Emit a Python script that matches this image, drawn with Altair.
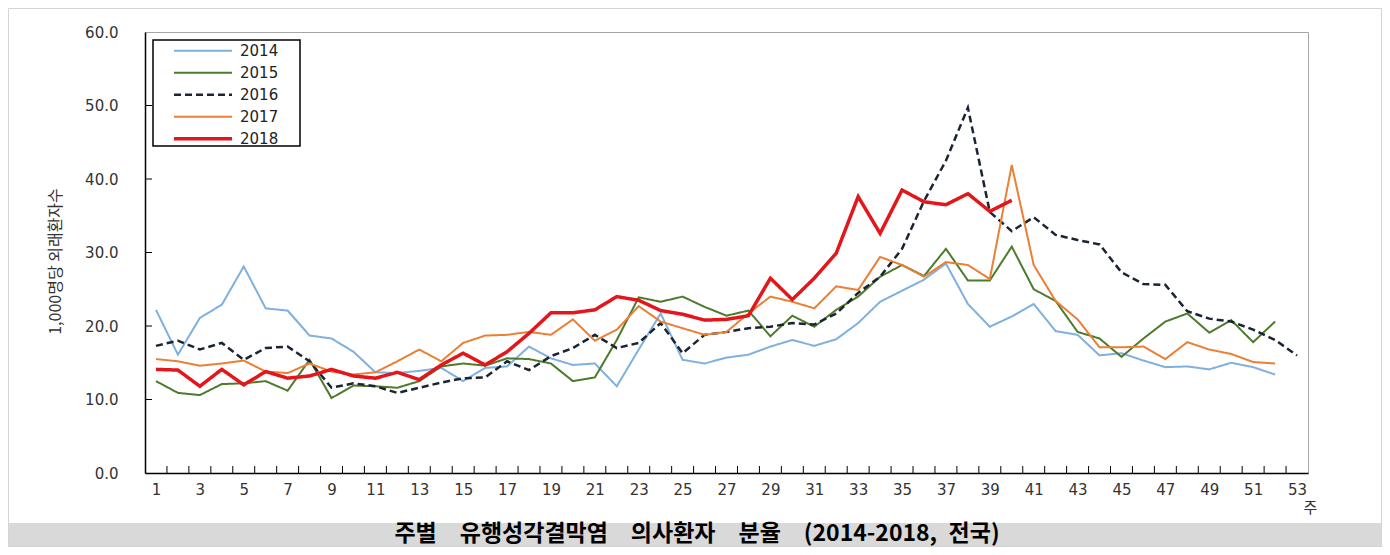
import altair as alt
import pandas as pd

# ---------------- data ----------------
years = ["2014", "2015", "2016", "2017", "2018"]

v2014 = [22.2, 16.1, 21.1, 22.9, 28.1, 22.4, 22.1, 18.7, 18.3, 16.5,
         13.7, 13.6, 13.9, 14.3, 12.5, 14.3, 14.5, 17.2, 15.6, 14.7,
         14.9, 11.8, 16.8, 21.7, 15.4, 14.9, 15.7, 16.1, 17.2, 18.1,
         17.3, 18.2, 20.4, 23.3, 24.8, 26.3, 28.5, 23.0, 19.9, 21.3,
         23.0, 19.3, 18.8, 16.0, 16.3, 15.3, 14.4, 14.5, 14.1, 15.0,
         14.4, 13.4]
v2015 = [12.5, 10.9, 10.6, 12.1, 12.2, 12.5, 11.2, 15.4, 10.2, 11.9,
         11.8, 11.6, 12.5, 14.5, 14.9, 14.6, 15.6, 15.5, 14.9, 12.5,
         13.0, 18.1, 23.9, 23.3, 24.0, 22.6, 21.4, 22.1, 18.6, 21.4,
         19.9, 22.2, 24.0, 26.7, 28.3, 26.8, 30.5, 26.2, 26.2, 30.8,
         25.0, 23.4, 19.2, 18.3, 15.8, 18.3, 20.6, 21.7, 19.1, 20.8,
         17.8, 20.6]
v2016 = [17.3, 18.0, 16.8, 17.7, 15.4, 17.0, 17.2, 15.2, 11.6, 12.2,
         11.8, 10.9, 11.6, 12.3, 12.9, 13.0, 15.2, 14.0, 15.9, 17.0,
         18.8, 17.0, 17.7, 20.4, 16.3, 18.8, 19.2, 19.7, 19.9, 20.4,
         20.2, 21.7, 24.5, 26.7, 30.5, 37.0, 42.5, 49.7, 35.5, 32.9,
         34.8, 32.4, 31.7, 31.1, 27.3, 25.7, 25.6, 22.0, 21.0, 20.6,
         19.5, 18.1, 16.0]
v2017 = [15.5, 15.2, 14.6, 14.9, 15.3, 13.8, 13.6, 14.9, 13.8, 13.4,
         13.7, 15.2, 16.8, 15.2, 17.7, 18.7, 18.8, 19.2, 18.8, 20.9,
         18.0, 19.5, 22.7, 20.6, 19.7, 18.8, 19.2, 21.7, 24.0, 23.3,
         22.4, 25.4, 24.9, 29.4, 28.3, 26.7, 28.7, 28.3, 26.4, 41.9,
         28.3, 23.4, 20.9, 17.1, 17.1, 17.2, 15.5, 17.8, 16.8, 16.2,
         15.1, 14.9]
v2018 = [14.1, 14.0, 11.8, 14.1, 12.0, 13.8, 12.9, 13.2, 14.1, 13.2,
         12.9, 13.7, 12.7, 14.7, 16.3, 14.7, 16.5, 19.0, 21.8, 21.8,
         22.2, 24.0, 23.5, 22.1, 21.6, 20.8, 20.9, 21.4, 26.5, 23.6,
         26.5, 29.9, 37.6, 32.6, 38.5, 36.9, 36.5, 38.0, 35.6, 37.1]
series = [v2014, v2015, v2016, v2017, v2018]

week_labels = list(range(1, 54, 2))
y_ticks = [0, 10, 20, 30, 40, 50, 60]
y_inner_ticks = [10, 20, 30, 40, 50]
week_bounds = [k + 0.5 for k in range(1, 53)]

title_text = "주별\u2003유행성각결막염\u2003의사환자\u2003분율\u2003(2014-2018,\u2002전국)"
y_title = "1,000명당 외래환자수"
x_title = "주"

colors = ["#7fb0de", "#4e7a2c", "#1b2433", "#ea7f35", "#e3161c"]
dashes = [[1, 0], [1, 0], [7, 4], [1, 0], [1, 0]]
widths = [2, 2, 2.5, 2, 3.5]

rows = []
for yr, vals in zip(years, series):
    for i, v in enumerate(vals):
        rows.append({"year": yr, "week": i + 1, "value": v})
df = pd.DataFrame(rows)

# ---------------- layout ----------------
W, H = 1163, 441
PAD = {"left": 137, "top": 24, "right": 74, "bottom": 74}
LBL_FONT = "DejaVu Sans"
KR_FONT = "Noto Sans CJK KR"

x_scale = alt.Scale(domain=[0.5, 53.5], nice=False, zero=False)
y_scale = alt.Scale(domain=[0, 60], nice=False, zero=False)

x_axis = alt.Axis(
    values=week_labels, ticks=False, grid=False,
    domainColor="black", domainWidth=1.5,
    labelFont=LBL_FONT, labelFontSize=15, labelColor="#333",
    labelPadding=9, labelFlush=False,
    title=x_title, titleX=1165, titleY=34, titleAlign="center",
    titleBaseline="middle", titleFont=KR_FONT, titleFontSize=15,
    titleFontWeight="normal", titleColor="#333")
y_axis = alt.Axis(
    values=y_ticks, format=".1f", ticks=False, grid=False,
    domainColor="black", domainWidth=1.5,
    labelFont=LBL_FONT, labelFontSize=15, labelColor="#333",
    labelPadding=27, labelFlush=False,
    title=y_title, titleAngle=270, titleX=-90, titleY=229,
    titleAlign="center", titleBaseline="middle", titleFont=KR_FONT,
    titleFontSize=16, titleFontWeight="normal", titleColor="#333")

legend = alt.Legend(
    title=None, orient="none", legendX=8, legendY=8, padding=0,
    symbolType="stroke", symbolSize=3364, symbolOffset=19,
    labelOffset=6, clipHeight=21.5, rowPadding=0,
    labelFont=LBL_FONT, labelFontSize=15, labelColor="#222",
)

one = pd.DataFrame({"k": [0]})

band = alt.Chart(one).mark_rect(color="#d9d9d9").encode(
    x=alt.value(-PAD["left"]), x2=alt.value(W + PAD["right"]),
    y=alt.value(491), y2=alt.value(H + PAD["bottom"]),
)
frame = alt.Chart(one).mark_rect(fill="white", fillOpacity=0, stroke="#d4d4d4", strokeWidth=1).encode(
    x=alt.value(-PAD["left"] + 0.5), x2=alt.value(W + PAD["right"] - 0.5),
    y=alt.value(-PAD["top"] + 0.5), y2=alt.value(H + PAD["bottom"] - 0.5),
)
legend_box = alt.Chart(one).mark_rect(fill="white", stroke="black", strokeWidth=1.5).encode(
    x=alt.value(8), x2=alt.value(155), y=alt.value(8), y2=alt.value(114),
)

ytick = alt.Chart(pd.DataFrame({"value": y_inner_ticks})).mark_rule(color="black", strokeWidth=1).encode(
    y=alt.Y("value:Q", scale=y_scale, axis=y_axis),
    x=alt.value(0), x2=alt.value(7),
)
xtick = alt.Chart(pd.DataFrame({"week": week_bounds})).mark_rule(color="black", strokeWidth=1).encode(
    x=alt.X("week:Q", scale=x_scale, axis=x_axis),
    y=alt.value(H), y2=alt.value(H - 7),
)

lines = alt.Chart(df).mark_line().encode(
    x=alt.X("week:Q", scale=x_scale, axis=x_axis),
    y=alt.Y("value:Q", scale=y_scale, axis=y_axis),
    color=alt.Color("year:O", scale=alt.Scale(type="ordinal", domain=years, range=colors), legend=legend),
    strokeDash=alt.StrokeDash("year:O", scale=alt.Scale(type="ordinal", domain=years, range=dashes), legend=legend),
    strokeWidth=alt.StrokeWidth("year:O", scale=alt.Scale(type="ordinal", domain=years, range=widths), legend=legend),
)

title = alt.Chart(one).mark_text(
    text=title_text, font=KR_FONT, fontSize=23, fontWeight="bold",
    align="center", baseline="middle", color="black",
).encode(x=alt.value(552), y=alt.value(502))

chart = alt.layer(band, frame, legend_box, ytick, xtick, lines, title).properties(
    width=W, height=H, padding=PAD,
    autosize=alt.AutoSizeParams(type="none"),
).configure_view(stroke="#a6a6a6", strokeWidth=1)

chart.save("out.html", embed_options={"renderer": "svg", "actions": False})
